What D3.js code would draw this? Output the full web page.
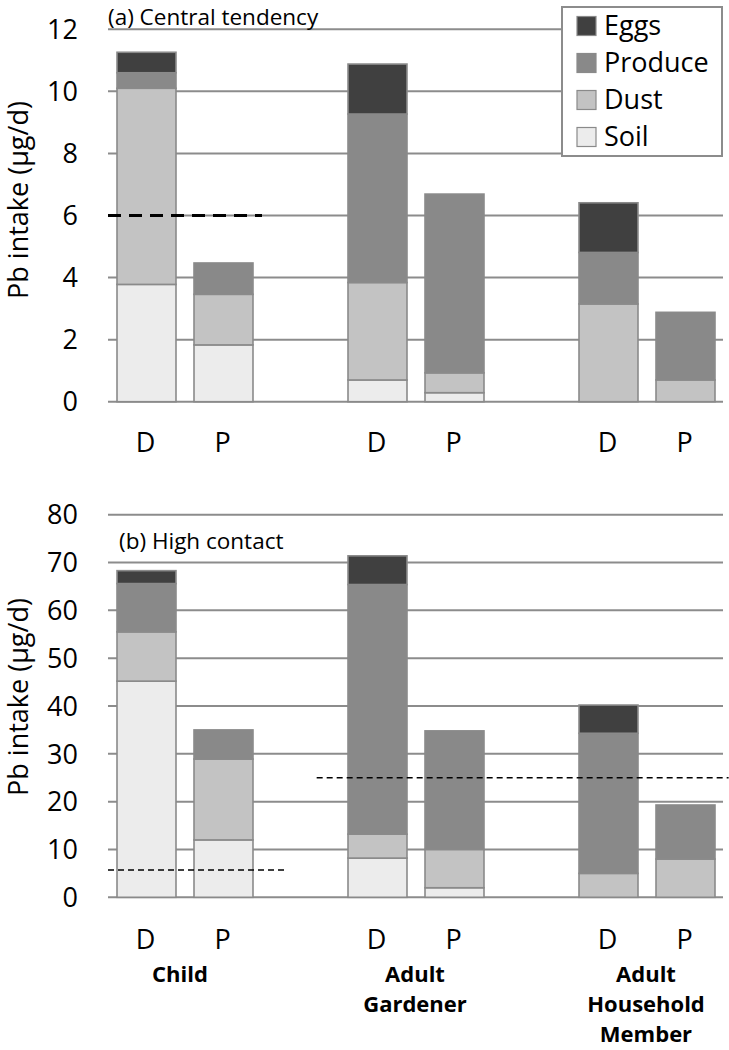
<!DOCTYPE html>
<html>
<head>
<meta charset="utf-8">
<script src="https://cdn.jsdelivr.net/npm/d3@7"></script>
<style>
  html, body { margin: 0; padding: 0; background: #fff; }
  svg { display: block; font-family: "Open Sans", "Noto Sans", sans-serif; }
</style>
</head>
<body>
<svg id="chart" width="729" height="1050"></svg>
<script>
// ---------- data ----------
const groups = ["Child", "Adult Gardener", "Adult Household Member"];
const barLabels = ["D", "P"];
const components = ["Soil", "Dust", "Produce", "Eggs"];
const legendOrder = ["Eggs", "Produce", "Dust", "Soil"];

// order of bars: Child D, Child P, Gardener D, Gardener P, Household D, Household P
const soilA    = [3.78, 1.83, 0.70, 0.29, 0.00, 0.00];
const dustA    = [6.32, 1.63, 3.14, 0.64, 3.15, 0.70];
const produceA = [0.50, 1.01, 5.43, 5.76, 1.66, 2.18];
const eggsA    = [0.66, 0.00, 1.61, 0.00, 1.60, 0.00];

const soilB    = [45.2, 12.0, 8.2, 2.0, 0.0, 0.0];
const dustB    = [10.3, 16.9, 5.0, 8.0, 5.0, 8.0];
const produceB = [10.1, 6.1, 52.2, 24.8, 29.3, 11.3];
const eggsB    = [2.7, 0.0, 6.0, 0.0, 5.9, 0.0];

const ticksA = [0, 2, 4, 6, 8, 10, 12];
const ticksB = [0, 10, 20, 30, 40, 50, 60, 70, 80];

// reference lines: value, start/end in category-slot units
const refA = [{ value: 6, s0: 0, s1: 2.0, heavy: true }];
const refB = [
  { value: 5.7, s0: 0, s1: 2.32, heavy: false },
  { value: 25, s0: 2.71, s1: 8.06, heavy: false }
];

// ---------- styling ----------
const colors = { Soil: "#ececec", Dust: "#c3c3c3", Produce: "#898989", Eggs: "#404040" };
const gridColor = "#8c8c8c";

const svg = d3.select("#chart");

// 8 slots: D, P, gap, D, P, gap, D, P
const slots = d3.range(8);
const x = d3.scaleBand().domain(slots).range([108, 724]).paddingInner(0.234).paddingOuter(0.117);
const slotOf = (i) => Math.floor(i / 2) * 3 + (i % 2);
const slotX = (s) => 108 + s * x.step();

function panel(cfg) {
  const y = d3.scaleLinear().domain([0, cfg.max]).range([cfg.y0, cfg.y1]);
  const g = svg.append("g");

  // gridlines
  g.selectAll("line.grid").data(cfg.ticks).join("line")
    .attr("x1", 108).attr("x2", 723)
    .attr("y1", d => y(d)).attr("y2", d => y(d))
    .attr("stroke", gridColor).attr("stroke-width", 2);

  // tick labels
  g.selectAll("text.tick").data(cfg.ticks).join("text")
    .attr("x", 78).attr("y", d => y(d))
    .attr("dy", "0.36em")
    .attr("text-anchor", "end")
    .attr("font-size", 27)
    .attr("fill", "#000")
    .text(d => d);

  // stacked bars
  const rows = cfg.soil.map((_, i) => ({
    i, Soil: cfg.soil[i], Dust: cfg.dust[i], Produce: cfg.produce[i], Eggs: cfg.eggs[i]
  }));
  const stack = d3.stack().keys(components)(rows);
  stack.forEach(layer => {
    g.append("g").selectAll("rect")
      .data(layer.filter(d => d[1] - d[0] > 0))
      .join("rect")
      .attr("x", d => x(slotOf(d.data.i)))
      .attr("width", x.bandwidth())
      .attr("y", d => y(d[1]))
      .attr("height", d => y(d[0]) - y(d[1]))
      .attr("fill", colors[layer.key])
      .attr("stroke", "#8a8a8a")
      .attr("stroke-width", 1.6);
  });

  // reference lines
  g.selectAll("line.ref").data(cfg.refs).join("line")
    .attr("x1", d => slotX(d.s0)).attr("x2", d => slotX(d.s1))
    .attr("y1", d => y(d.value)).attr("y2", d => y(d.value))
    .attr("stroke", "#000")
    .attr("stroke-width", d => d.heavy ? 3 : 1.6)
    .attr("stroke-dasharray", d => d.heavy ? "13,8" : "6,4");

  // D / P labels
  g.selectAll("text.bl").data(cfg.soil.map((_, i) => i)).join("text")
    .attr("x", i => x(slotOf(i)) + x.bandwidth() / 2 - 1)
    .attr("y", cfg.labelY)
    .attr("text-anchor", "middle")
    .attr("font-size", 27)
    .text(i => barLabels[i % 2]);

  // panel label
  g.append("text")
    .attr("x", cfg.titleX).attr("y", cfg.titleY)
    .attr("font-size", 22.5)
    .text(cfg.title);

  // y axis title
  g.append("text")
    .attr("transform", `translate(28,${cfg.axisTitleY}) rotate(-90)`)
    .attr("text-anchor", "middle")
    .attr("font-size", 27)
    .text("Pb intake (\u00b5g/d)");

  return y;
}

panel({
  max: 12, y0: 401.7, y1: 29.3, ticks: ticksA,
  soil: soilA, dust: dustA, produce: produceA, eggs: eggsA,
  refs: refA, labelY: 452, title: "(a) Central tendency", titleX: 108, titleY: 25,
  axisTitleY: 200
});

panel({
  max: 80, y0: 897.3, y1: 514.7, ticks: ticksB,
  soil: soilB, dust: dustB, produce: produceB, eggs: eggsB,
  refs: refB, labelY: 949, title: "(b) High contact", titleX: 119, titleY: 549,
  axisTitleY: 697
});

// group labels
const groupG = svg.append("g");
groups.forEach((name, gi) => {
  const cx = (x(gi * 3) + x(gi * 3 + 1) + x.bandwidth()) / 2 - (gi === 0 ? 5 : 1);
  const words = name.split(" ");
  const t = groupG.append("text")
    .attr("x", cx).attr("y", 982)
    .attr("text-anchor", "middle")
    .attr("font-size", 22)
    .attr("font-weight", "bold");
  words.forEach((w, k) => {
    t.append("tspan").attr("x", cx).attr("dy", k === 0 ? 0 : 30).text(w);
  });
});

// legend
const leg = svg.append("g");
leg.append("rect")
  .attr("x", 562).attr("y", 7).attr("width", 160).attr("height", 149)
  .attr("fill", "#fff").attr("stroke", gridColor).attr("stroke-width", 2);
legendOrder.forEach((k, i) => {
  const by = 35 + i * 37;
  leg.append("rect")
    .attr("x", 577).attr("y", by - 18.5).attr("width", 19).attr("height", 19)
    .attr("fill", colors[k]).attr("stroke", "#8a8a8a").attr("stroke-width", 1.2);
  leg.append("text")
    .attr("x", 604).attr("y", by)
    .attr("font-size", 27)
    .text(k);
});
</script>
</body>
</html>
